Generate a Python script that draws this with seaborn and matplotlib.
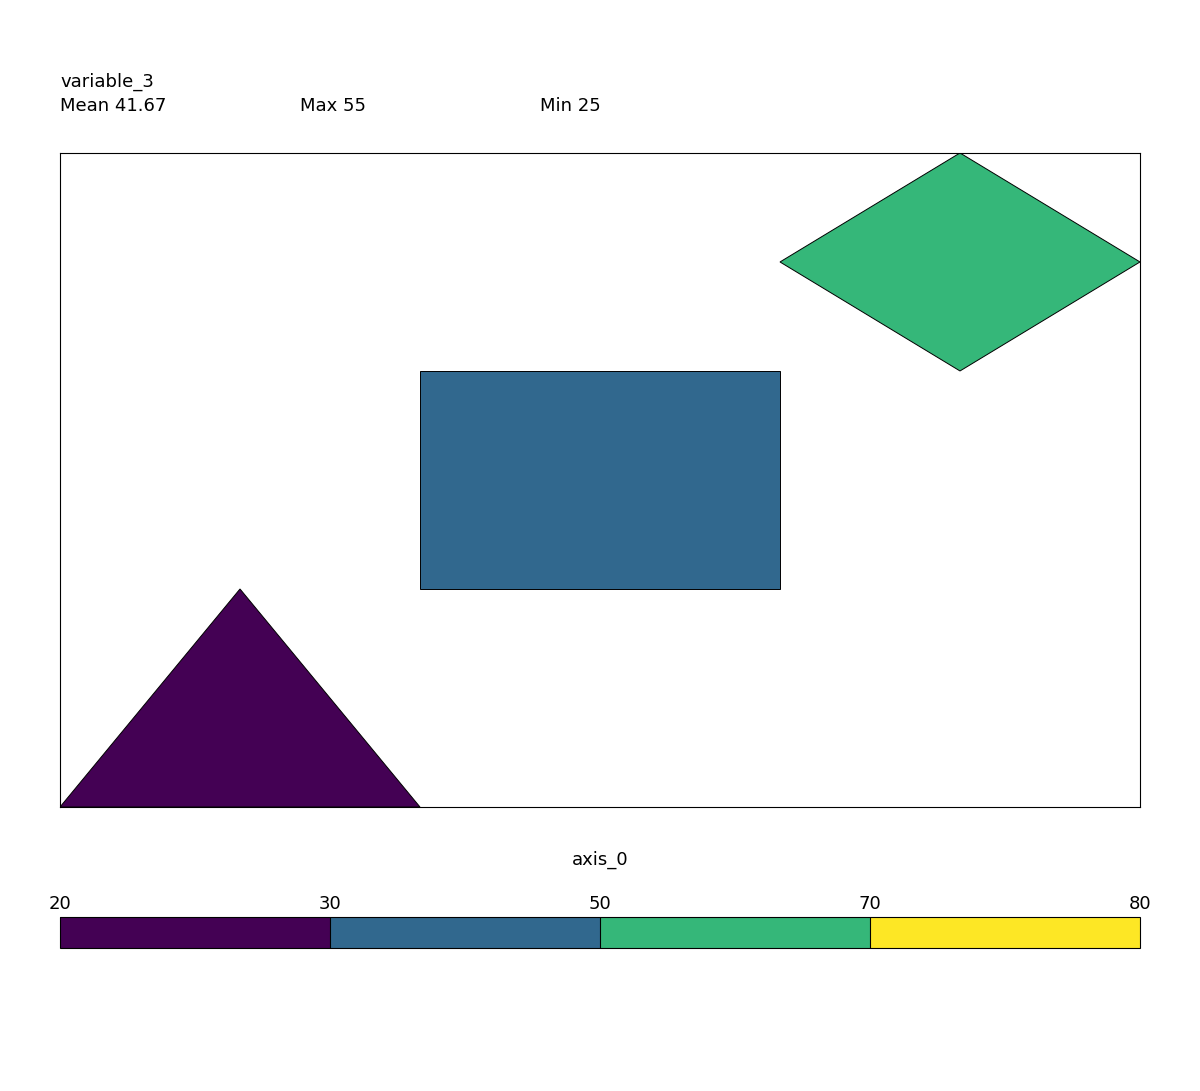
import numpy as np
import matplotlib
matplotlib.use("Agg")
import matplotlib.pyplot as plt
import matplotlib.colors as mcolors
from matplotlib.patches import Polygon
import seaborn as sns

# data
variable_name = "variable_3"
shape_kinds = ["triangle", "rectangle", "diamond"]
values = [25, 45, 55]
bounds = [20, 30, 50, 70, 80]
legend_label = "axis_0"

sns.set_theme(style="white")
plt.rcParams["font.family"] = ["DejaVu Sans"]
plt.rcParams["text.color"] = "black"
plt.rcParams["xtick.color"] = "black"
plt.rcParams["axes.labelcolor"] = "black"

cmap = plt.get_cmap("viridis", len(bounds) - 1)
norm = mcolors.BoundaryNorm(bounds, cmap.N)

# unit templates for each glyph, drawn inside one grid cell
templates = {
    "triangle": [(0, 0), (0.5, 1), (1, 0)],
    "rectangle": [(0, 0), (0, 1), (1, 1), (1, 0)],
    "diamond": [(0, 0.5), (0.5, 1), (1, 0.5), (0.5, 0)],
}

fig = plt.figure(figsize=(12, 10.91), dpi=100)
ax = fig.add_axes([0.05, 0.2603, 0.9, 0.5995])
n = len(values)
for i, (kind, v) in enumerate(zip(shape_kinds, values)):
    pts = np.array(templates[kind], dtype=float) + [i, i]
    ax.add_patch(Polygon(pts, closed=True, facecolor=cmap(norm(v)),
                         edgecolor="black", linewidth=0.7))
ax.set_xlim(0, n)
ax.set_ylim(0, n)
ax.set_xticks([])
ax.set_yticks([])
for s in ax.spines.values():
    s.set_visible(True)
    s.set_color("black")
    s.set_linewidth(0.8)

# header
fs = 13
fig.text(0.05, 1 - 82 / 1091, variable_name, fontsize=fs, va="center", ha="left")
stats = [f"Mean {np.mean(values):.2f}", f"Max {max(values)}", f"Min {min(values)}"]
for k, t in enumerate(stats):
    fig.text((60 + 240 * k) / 1200, 1 - 106 / 1091, t, fontsize=fs, va="center", ha="left")

# legend bar
cax = fig.add_axes([0.05, 1 - 948 / 1091, 0.9, 31 / 1091])
sm = matplotlib.cm.ScalarMappable(norm=norm, cmap=cmap)
cb = fig.colorbar(sm, cax=cax, orientation="horizontal", spacing="uniform",
                  boundaries=bounds, ticks=bounds, drawedges=True)
cb.dividers.set_color("black")
cb.dividers.set_linewidth(0.8)
cb.outline.set_edgecolor("black")
cb.outline.set_linewidth(0.8)
cax.xaxis.set_ticks_position("top")
cax.xaxis.set_label_position("top")
cax.tick_params(axis="x", length=0, pad=3, labelsize=fs, colors="black")
cb.set_label(legend_label, fontsize=fs, labelpad=22, color="black")

fig.savefig("out.png", dpi=100)
